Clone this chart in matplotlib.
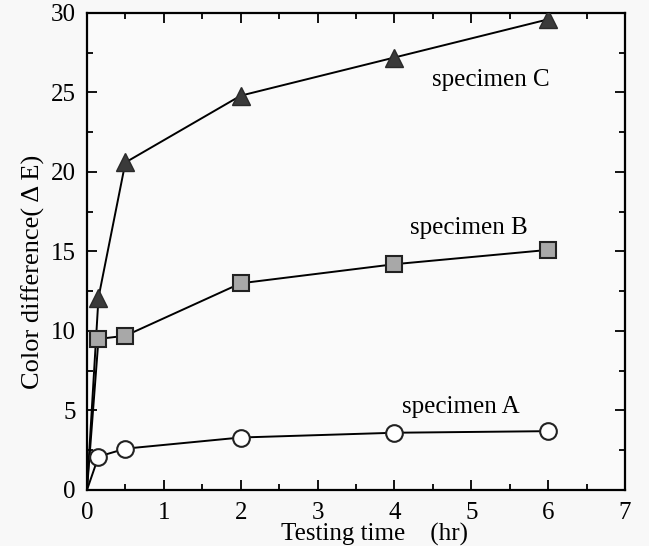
import matplotlib.pyplot as plt
from matplotlib.ticker import MultipleLocator

# testing time (hr)
time_hr = [0, 0.15, 0.5, 2, 4, 6]

# color difference (delta E)
spec_a = [0, 2.1, 2.6, 3.3, 3.6, 3.7]
spec_b = [0, 9.5, 9.7, 13.0, 14.2, 15.1]
spec_c = [0, 12.1, 20.6, 24.8, 27.2, 29.6]

plt.rcParams['font.family'] = ['Liberation Serif', 'Noto Sans CJK JP', 'DejaVu Serif']

fig = plt.figure(figsize=(6.49, 5.46), dpi=100)
fig.patch.set_facecolor('#f8f8f8')
ax = fig.add_axes([0.134, 0.1026, 0.829, 0.8736])
ax.set_facecolor('#fafafa')

ax.plot(time_hr, spec_c, color='black', lw=1.4, zorder=2)
ax.plot(time_hr[1:], spec_c[1:], ls='none', marker='^', ms=13,
        mfc='#3a3a3a', mec='#2a2a2a', mew=1, zorder=3)

ax.plot(time_hr, spec_b, color='black', lw=1.4, zorder=2)
ax.plot(time_hr[1:], spec_b[1:], ls='none', marker='s', ms=11,
        mfc='#a8a8a8', mec='#222222', mew=1.5, zorder=3)

ax.plot(time_hr, spec_a, color='black', lw=1.4, zorder=2)
ax.plot(time_hr[1:], spec_a[1:], ls='none', marker='o', ms=12,
        mfc='white', mec='#222222', mew=1.5, zorder=3)

ax.text(4.49, 25.8, 'specimen C', fontsize=18, ha='left', va='center')
ax.text(4.2, 16.5, 'specimen B', fontsize=18, ha='left', va='center')
ax.text(4.1, 5.2, 'specimen A', fontsize=18, ha='left', va='center')

ax.set_xlim(0, 7)
ax.set_ylim(0, 30)
ax.xaxis.set_major_locator(MultipleLocator(1))
ax.xaxis.set_minor_locator(MultipleLocator(0.5))
ax.yaxis.set_major_locator(MultipleLocator(5))
ax.yaxis.set_minor_locator(MultipleLocator(2.5))
ax.tick_params(which='both', direction='in', top=True, right=True,
               width=1.3, labelsize=18)
ax.tick_params(which='major', length=7)
ax.tick_params(axis='x', which='major', pad=9)
ax.tick_params(axis='y', which='major', pad=8)
ax.tick_params(which='minor', length=4)
for s in ax.spines.values():
    s.set_linewidth(1.6)

ax.set_xlabel('Testing time\u3000(hr)', fontsize=18)
ax.xaxis.set_label_coords(0.535, -0.068)
ax.set_ylabel('Color difference( \u0394 E)', fontsize=19)
ax.yaxis.set_label_coords(-0.078, 0.457)

plt.savefig('out.png', dpi=100)
